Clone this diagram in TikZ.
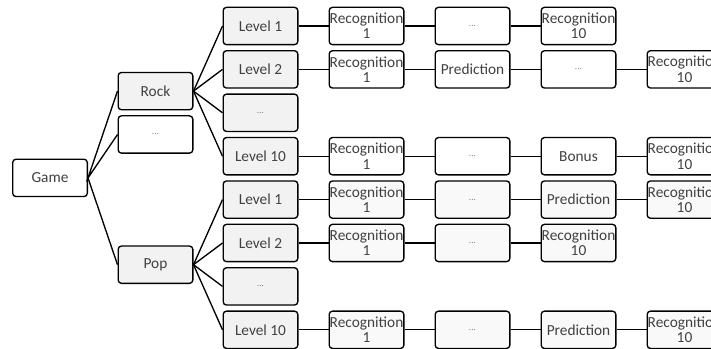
\documentclass[tikz,border=0pt]{standalone}
\usepackage{fontspec}
\setmainfont{Carlito}
\usetikzlibrary{positioning}

\begin{document}
\begin{tikzpicture}[x=0.75pt,y=-0.75pt,node distance=22.5pt,
  box/.style={draw, rounded corners=2.5pt, line width=1pt, minimum width=56pt, minimum height=28pt, inner sep=0pt, align=center, text=black!75, font=\fontsize{11.5}{11.5}\selectfont},
  grey/.style={box, fill=gray!10},
  plain/.style={box, fill=white},
  pale/.style={box, fill=gray!5},
  dots/.style={font=\scriptsize, text=gray},
  link/.style={line width=1pt}]

  \useasboundingbox (0,0) rectangle (711,349);
  \clip (0,0) rectangle (711,349);

  \node[plain] (game) at (50,177.9) {Game};
  \node[grey] (rock) at (155.5,91.1) {Rock};
  \node[plain,dots] (mid) at (155.5,134.5) {...};
  \node[grey] (pop) at (155.5,264.7) {Pop};

  \node[grey] (r1) at (260.5,26) {Level 1};
  \node[grey] (r2) at (260.5,69.4) {Level 2};
  \node[grey,dots] (rd) at (260.5,112.8) {...};
  \node[grey] (r10) at (260.5,156.2) {Level 10};
  \node[grey] (p1) at (260.5,199.6) {Level 1};
  \node[grey] (p2) at (260.5,243) {Level 2};
  \node[grey,dots] (pd) at (260.5,286.4) {...};
  \node[grey] (p10) at (260.5,329.8) {Level 10};

  % rock rows
  \node[plain, right=of r1] (r1a) {Recognition\\1};
  \node[plain,dots, right=of r1a] (r1b) {...};
  \node[plain, right=of r1b] (r1c) {Recognition\\10};

  \node[plain, right=of r2] (r2a) {Recognition\\1};
  \node[plain, right=of r2a] (r2b) {Prediction};
  \node[plain,dots, right=of r2b] (r2c) {...};
  \node[plain, right=of r2c] (r2d) {Recognition\\10};

  \node[plain, right=of r10] (r10a) {Recognition\\1};
  \node[plain,dots, right=of r10a] (r10b) {...};
  \node[plain, right=of r10b] (r10c) {Bonus};
  \node[plain, right=of r10c] (r10d) {Recognition\\10};

  % pop rows
  \node[pale, right=of p1] (p1a) {Recognition\\1};
  \node[pale,dots, right=of p1a] (p1b) {...};
  \node[pale, right=of p1b] (p1c) {Prediction};
  \node[pale, right=of p1c] (p1d) {Recognition\\10};

  \node[pale, right=of p2] (p2a) {Recognition\\1};
  \node[pale,dots, right=of p2a] (p2b) {...};
  \node[pale, right=of p2b] (p2c) {Recognition\\10};

  \node[pale, right=of p10] (p10a) {Recognition\\1};
  \node[pale,dots, right=of p10a] (p10b) {...};
  \node[pale, right=of p10b] (p10c) {Prediction};
  \node[pale, right=of p10c] (p10d) {Recognition\\10};

  \draw[link] (rock.west) -- (game.east) -- (mid.west);
  \draw[link] (game.east) -- (pop.west);
  \draw[link] (rock.east) -- (r1.west);
  \draw[link] (rock.east) -- (r2.west);
  \draw[link] (rock.east) -- (rd.west);
  \draw[link] (rock.east) -- (r10.west);
  \draw[link] (pop.east) -- (p1.west);
  \draw[link] (pop.east) -- (p2.west);
  \draw[link] (pop.east) -- (pd.west);
  \draw[link] (pop.east) -- (p10.west);

  \draw[link] (r1) -- (r1a) -- (r1b) -- (r1c);
  \draw[link] (r2) -- (r2a) -- (r2b) -- (r2c) -- (r2d);
  \draw[link] (r10) -- (r10a) -- (r10b) -- (r10c) -- (r10d);
  \draw[link] (p1) -- (p1a) -- (p1b) -- (p1c) -- (p1d);
  \draw[link] (p2) -- (p2a) -- (p2b) -- (p2c);
  \draw[link] (p10) -- (p10a) -- (p10b) -- (p10c) -- (p10d);
\end{tikzpicture}
\end{document}
